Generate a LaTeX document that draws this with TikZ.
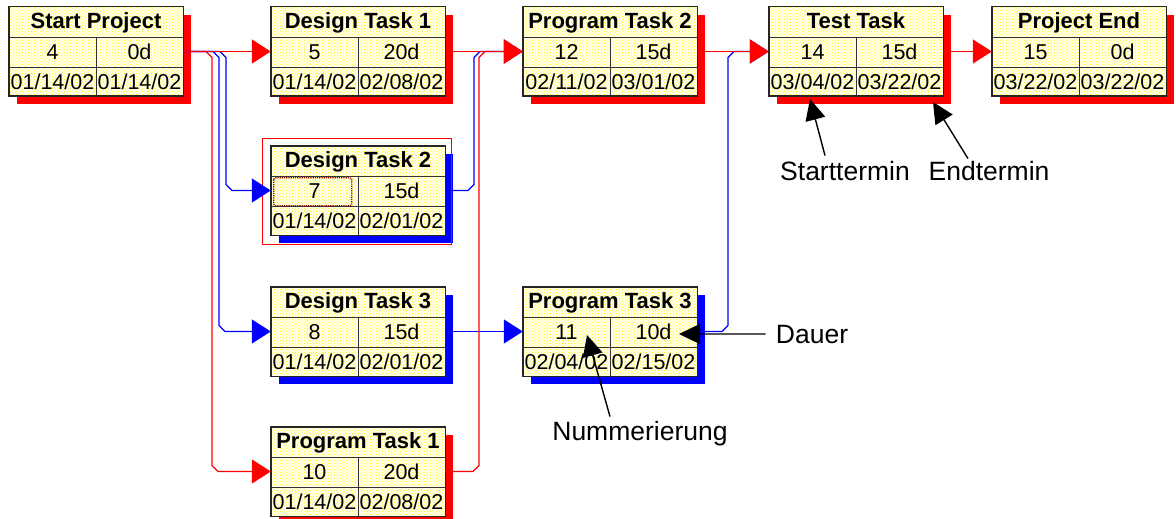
\documentclass[tikz,border=0pt]{standalone}
\usepackage{fontspec}
\setmainfont{Liberation Sans}
\usetikzlibrary{arrows.meta,shadows,patterns}
\tikzset{
 taskbox/.style={minimum width=174pt, minimum height=89pt, inner sep=0pt, fill=yellow!6,
   postaction={pattern=crosshatch dots, pattern color=yellow}},
 cellline/.style={draw=black!80, line width=1pt},
 cardborder/.style={draw=black!85, line width=1.4pt},
 titletext/.style={anchor=base, inner sep=0pt, font=\fontsize{22}{24}\selectfont\bfseries},
 celltext/.style={anchor=base, inner sep=0pt, font=\fontsize{21.5}{23}\selectfont},
 redlink/.style={draw=red, line width=1.3pt, -{Triangle[length=19pt,width=24pt]}},
 bluelink/.style={draw=blue, line width=1.3pt, -{Triangle[length=19pt,width=24pt]}},
 annot/.style={draw=black, line width=1.4pt, -{Triangle[length=21pt,width=20pt]}},
 annottext/.style={anchor=base, inner sep=0pt, font=\fontsize{26.5}{30}\selectfont},
}
\newcommand\taskcard[9]{%
 \node[taskbox, general shadow={fill=#9,shadow xshift=8pt,shadow yshift=-8pt}] (#1) at (#2,#3) {};
 \draw[cellline] ([yshift=-31pt]#1.north west) -- ([yshift=-31pt]#1.north east);
 \draw[cellline] ([yshift=-61pt]#1.north west) -- ([yshift=-61pt]#1.north east);
 \draw[cellline] ([yshift=-31pt]#1.north) -- (#1.south);
 \draw[cardborder] (#1.north west) rectangle (#1.south east);
 \node[titletext] (#1-t) at ([yshift=-22pt]#1.north) {#4};
 \node[celltext] (#1-n) at ([xshift=-43.5pt,yshift=-53pt]#1.north) {#5};
 \node[celltext] (#1-d) at ([xshift=43.5pt,yshift=-53pt]#1.north) {#6};
 \node[celltext] (#1-s) at ([xshift=-43.5pt,yshift=-83pt]#1.north) {#7};
 \node[celltext] (#1-e) at ([xshift=43.5pt,yshift=-83pt]#1.north) {#8};
}
\begin{document}
\begin{tikzpicture}[x=1pt,y=-1pt]
\fill[white] (0,0) rectangle (1176,519);
\useasboundingbox (0,0) rectangle (1176,519);

\taskcard{sp}{96}{51.5}{Start Project}{4}{0d}{01/14/02}{01/14/02}{red}
\taskcard{dt1}{358}{51.5}{Design Task 1}{5}{20d}{01/14/02}{02/08/02}{red}
\taskcard{pt2}{610}{51.5}{Program Task 2}{12}{15d}{02/11/02}{03/01/02}{red}
\taskcard{tt}{856}{51.5}{Test Task}{14}{15d}{03/04/02}{03/22/02}{red}
\taskcard{pe}{1079}{51.5}{Project End}{15}{0d}{03/22/02}{03/22/02}{red}
\taskcard{dt2}{358}{190.5}{Design Task 2}{7}{15d}{01/14/02}{02/01/02}{blue}
\taskcard{dt3}{358}{331.5}{Design Task 3}{8}{15d}{01/14/02}{02/01/02}{blue}
\taskcard{pt3}{610}{331.5}{Program Task 3}{11}{10d}{02/04/02}{02/15/02}{blue}
\taskcard{pt1}{358}{471.5}{Program Task 1}{10}{20d}{01/14/02}{02/08/02}{red}

% selection marks on Design Task 2
\draw[red, line width=1pt] ([xshift=-8pt,yshift=7pt]dt2.north west) rectangle ([xshift=6pt,yshift=-9pt]dt2.south east);
\draw[red!55!black, densely dotted, line width=1.2pt, rounded corners=2pt]
  ([xshift=3pt,yshift=-32pt]dt2.north west) rectangle ([xshift=81pt,yshift=-60pt]dt2.north west);

% connectors
\draw[bluelink] (sp.east) -- (220,51.5) -- (226,57.5) -- (226,184.5) -- (232,190.5) -- (dt2.west);
\draw[bluelink] (sp.east) -- (213,51.5) -- (219,57.5) -- (219,325.5) -- (225,331.5) -- (dt3.west);
\draw[bluelink] (dt2.east) -- (468,190.5) -- (474,184.5) -- (474,57.5) -- (480,51.5) -- (pt2.west);
\draw[bluelink] (pt3.east) -- (722,331.5) -- (728,325.5) -- (728,57.5) -- (734,51.5) -- (tt.west);
\draw[bluelink] (dt3.east) -- (pt3.west);
\draw[redlink] (sp.east) -- (206,51.5) -- (212,57.5) -- (212,465.5) -- (218,471.5) -- (pt1.west);
\draw[redlink] (pt1.east) -- (473,471.5) -- (479,465.5) -- (479,57.5) -- (485,51.5) -- (pt2.west);
\draw[redlink] (sp.east) -- (dt1.west);
\draw[redlink] (dt1.east) -- (pt2.west);
\draw[redlink] (pt2.east) -- (tt.west);
\draw[redlink] (tt.east) -- (pe.west);

% annotations
\node[annottext] (lblS) at (845,180) {Starttermin};
\node[annottext] (lblE) at (989,180) {Endtermin};
\node[annottext] (lblD) at (812,343) {Dauer};
\node[annottext] (lblN) at (640,440) {Nummerierung};
\coordinate (tipS) at (810,99);
\coordinate (tipE) at (933,102);
\coordinate (tipD) at (679,334);
\coordinate (tipN) at (587,335);
\draw[annot] ([xshift=-20pt,yshift=5pt]lblS.north) -- (tipS);
\draw[annot] ([xshift=-21pt,yshift=2pt]lblE.north) -- (tipE);
\draw[annot] ([xshift=-10pt]lblD.west) -- (tipD);
\draw[annot] ([xshift=-30pt,yshift=4pt]lblN.north) -- (tipN);
\end{tikzpicture}
\end{document}
